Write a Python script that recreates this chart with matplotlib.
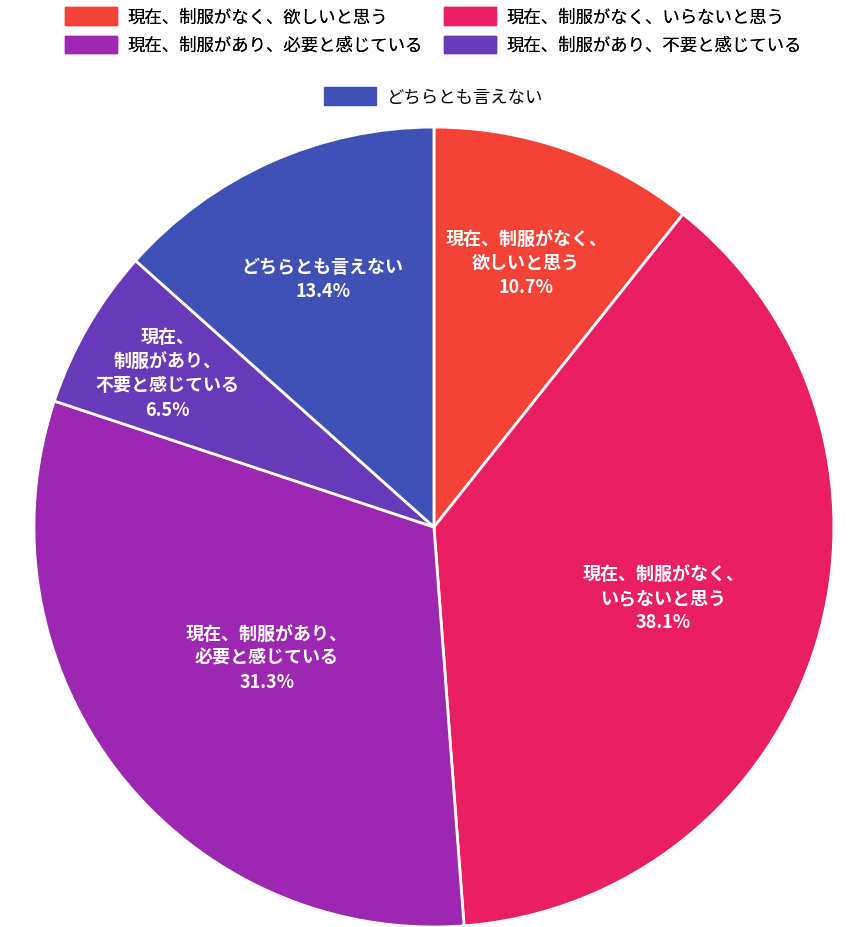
import numpy as np
import matplotlib.pyplot as plt
import matplotlib.patches as mpatches

plt.rcParams['font.family'] = ['Noto Sans CJK JP', 'DejaVu Sans']

categories = ['現在、制服がなく、欲しいと思う', '現在、制服がなく、いらないと思う',
              '現在、制服があり、必要と感じている', '現在、制服があり、不要と感じている',
              'どちらとも言えない']
inner_labels = ['現在、制服がなく、\n欲しいと思う', '現在、制服がなく、\nいらないと思う',
                '現在、制服があり、\n必要と感じている', '現在、\n制服があり、\n不要と感じている',
                'どちらとも言えない']
values = [10.7, 38.1, 31.3, 6.5, 13.4]
colors = ['#F44336', '#E91E63', '#9C27B0', '#673AB7', '#3F51B5']
label_r = [0.70, 0.60, 0.53, 0.77, 0.68]

fig = plt.figure(figsize=(8.67, 9.28), dpi=100)
ax = fig.add_axes([0.039, 0.0, 0.923, 0.862])
wedges, _ = ax.pie(values, colors=colors, startangle=90, counterclock=False,
                   wedgeprops=dict(edgecolor='white', linewidth=2))
ax.set_xlim(-1, 1)
ax.set_ylim(-1, 1)
ax.set_aspect('equal')

for w, lab, v, r in zip(wedges, inner_labels, values, label_r):
    ang = np.deg2rad((w.theta1 + w.theta2) / 2)
    ax.text(r * np.cos(ang), r * np.sin(ang), f'{lab}\n{v}%', ha='center', va='center',
            color='white', fontsize=13, fontweight='bold', linespacing=1.35)

handles = [mpatches.Patch(color=c, label=l) for c, l in zip(colors, categories)]
order = [0, 2, 1, 3]
leg1 = fig.legend([handles[i] for i in order], [categories[i] for i in order], ncol=2,
                  loc='upper center', bbox_to_anchor=(0.5, 1.008), frameon=False, fontsize=12.5,
                  handlelength=3.0, handleheight=1.2, columnspacing=1.2, labelspacing=0.55,
                  handletextpad=0.6)
fig.add_artist(leg1)
fig.legend([handles[4]], [categories[4]], loc='upper center', bbox_to_anchor=(0.5, 0.922),
           frameon=False, fontsize=12.5, handlelength=3.0, handleheight=1.2, handletextpad=0.6)

fig.savefig('out.png', dpi=100)
